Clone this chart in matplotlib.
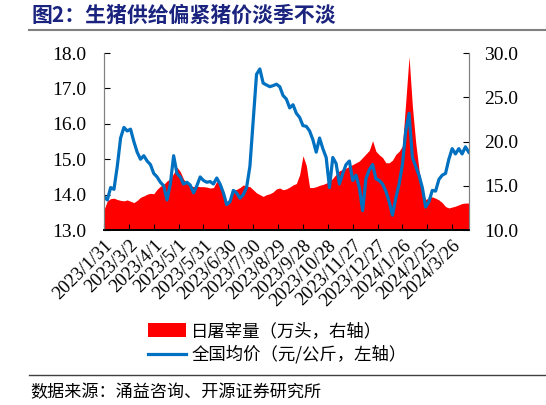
import matplotlib.pyplot as plt
import pandas as pd

plt.rcParams['font.family'] = ['Noto Sans CJK SC', 'DejaVu Sans']

# 数据（每4天取一个点，自图中读取）
start_date = '2023-01-31'
step = '4D'

price = [13.95, 13.85, 14.2, 14.15, 14.8, 15.6, 15.9, 15.8, 15.85, 15.5,
         15.2, 15.0, 15.1, 14.95, 14.85, 14.6, 14.5, 14.35, 14.25, 13.85,
         14.3, 15.1, 14.6, 14.5, 14.3, 14.35, 14.27, 14.05, 14.25, 14.5,
         14.4, 14.35, 14.37, 14.3, 14.47, 14.3, 14.05, 13.72, 13.8, 14.12,
         14.05, 13.9, 14.0, 14.2, 14.8, 16.1, 17.4, 17.55, 17.15, 17.1,
         17.05, 17.08, 17.12, 17.05, 16.8, 16.7, 16.45, 16.54, 16.3, 16.18,
         15.95, 15.93, 15.8, 15.55, 15.2, 15.6, 15.3, 15.05, 14.2, 15.05,
         14.88, 14.3, 14.6, 14.85, 14.95, 14.4, 14.55, 14.2, 13.55, 14.45,
         14.7, 14.85, 14.45, 14.4, 14.3, 14.1, 13.8, 13.42, 13.9, 14.3,
         14.85, 15.8, 16.3, 15.05, 14.8, 14.55, 14.2, 13.65, 13.8, 14.12,
         14.1, 14.43, 14.55, 14.6, 15.0, 15.3, 15.15, 15.3, 15.15, 15.35,
         15.2]

slaughter = [12.3, 13.3, 13.55, 13.6, 13.45, 13.35, 13.3, 13.4, 13.25, 13.1,
             13.35, 13.7, 13.85, 14.05, 14.15, 14.1, 14.6, 14.95, 15.15, 15.55,
             15.8, 16.4, 17.1, 16.6, 15.75, 15.3, 15.0, 14.9, 14.95, 14.9,
             14.9, 14.85, 14.75, 14.8, 15.5, 15.3, 13.8, 13.2, 13.6, 14.45,
             14.6, 14.8, 15.1, 14.95, 14.9, 14.55, 14.2, 14.0, 13.8, 14.0,
             14.1, 14.3, 14.65, 14.75, 14.55, 14.65, 14.85, 15.1, 15.25, 16.25,
             18.4, 17.3, 14.8, 14.8, 14.9, 15.05, 15.15, 15.3, 15.5, 15.85,
             16.3, 16.7, 16.85, 17.0, 17.2, 17.4, 17.6, 17.8, 18.2, 18.6,
             19.0, 20.1, 18.9, 18.5, 18.2, 17.6, 17.6, 17.9, 18.55, 18.9,
             19.5, 24.5, 29.6, 24.0, 19.9, 16.8, 14.4, 13.45, 13.65, 13.75,
             13.6, 13.4, 13.1, 12.65, 12.5, 12.6, 12.7, 12.85, 13.0, 13.05,
             13.05]

dates = pd.date_range(start_date, periods=len(price), freq=step)
tick_dates = pd.date_range(start_date, periods=15, freq='30D')
tick_labels = [f'{d.year}/{d.month}/{d.day}' for d in tick_dates]

fig = plt.figure(figsize=(5.46, 4.05), dpi=100)
ax = fig.add_axes([0.1905, 0.432, 0.668, 0.437])
ax2 = ax.twinx()

# 红色面积：日屠宰量（右轴）
red = ax2.fill_between(dates, 10, slaughter, color='#FF0000', linewidth=0)
# 蓝线：全国均价（左轴），画在上层
ax.set_zorder(ax2.get_zorder() + 1)
ax.patch.set_visible(False)
line, = ax.plot(dates, price, color='#0070C0', linewidth=2.3)

ax.set_ylim(13, 18)
ax2.set_ylim(10, 30)
ax.set_xlim(pd.Timestamp('2023-01-31'), pd.Timestamp('2024-04-15'))
ax.set_yticks([13, 14, 15, 16, 17, 18])
ax2.set_yticks([10, 15, 20, 25, 30])
ax.yaxis.set_major_formatter(plt.FormatStrFormatter('%.1f'))
ax2.yaxis.set_major_formatter(plt.FormatStrFormatter('%.1f'))

ax.set_xticks(tick_dates)
ax.set_xticklabels(tick_labels, rotation=45, ha='right', rotation_mode='anchor',
                   family='Liberation Serif', fontsize=13.5)
for lab in ax.get_yticklabels() + ax2.get_yticklabels():
    lab.set_family('Liberation Serif')
    lab.set_fontsize(14)

ax.tick_params(axis='y', direction='in', length=4, pad=13)
ax2.tick_params(axis='y', direction='in', length=4, pad=11)
ax.tick_params(axis='x', direction='in', length=4, pad=5)

for a in (ax, ax2):
    a.spines['top'].set_visible(False)
    a.spines['left'].set_color('#808080')
    a.spines['right'].set_color('#808080')
    a.spines['bottom'].set_color('#000000')
    a.spines['bottom'].set_linewidth(1.2)

fig.legend([red, line], ['日屠宰量（万头，右轴）', '全国均价（元/公斤，左轴）'],
           loc='upper left', bbox_to_anchor=(0.271, 0.205), frameon=False,
           fontsize=12.5, handlelength=2.2, handleheight=0.8, labelspacing=0.3,
           handletextpad=0.3, borderaxespad=0, borderpad=0)

# 标题与分隔线
fig.text(0.057, 0.962, '图2：生猪供给偏紧猪价淡季不淡', fontsize=15,
         fontweight='bold', color='#1A237E', va='center')
fig.add_artist(plt.Line2D([0.053, 1.0], [0.925, 0.925], color='#808080',
                          linewidth=1.5, transform=fig.transFigure))
fig.add_artist(plt.Line2D([0.053, 1.0], [0.073, 0.073], color='#404040',
                          linewidth=1.0, transform=fig.transFigure))
fig.text(0.055, 0.032, '数据来源：涌益咨询、开源证券研究所', fontsize=12.3,
         color='#000000', va='center')

fig.savefig('out.png', dpi=100)
